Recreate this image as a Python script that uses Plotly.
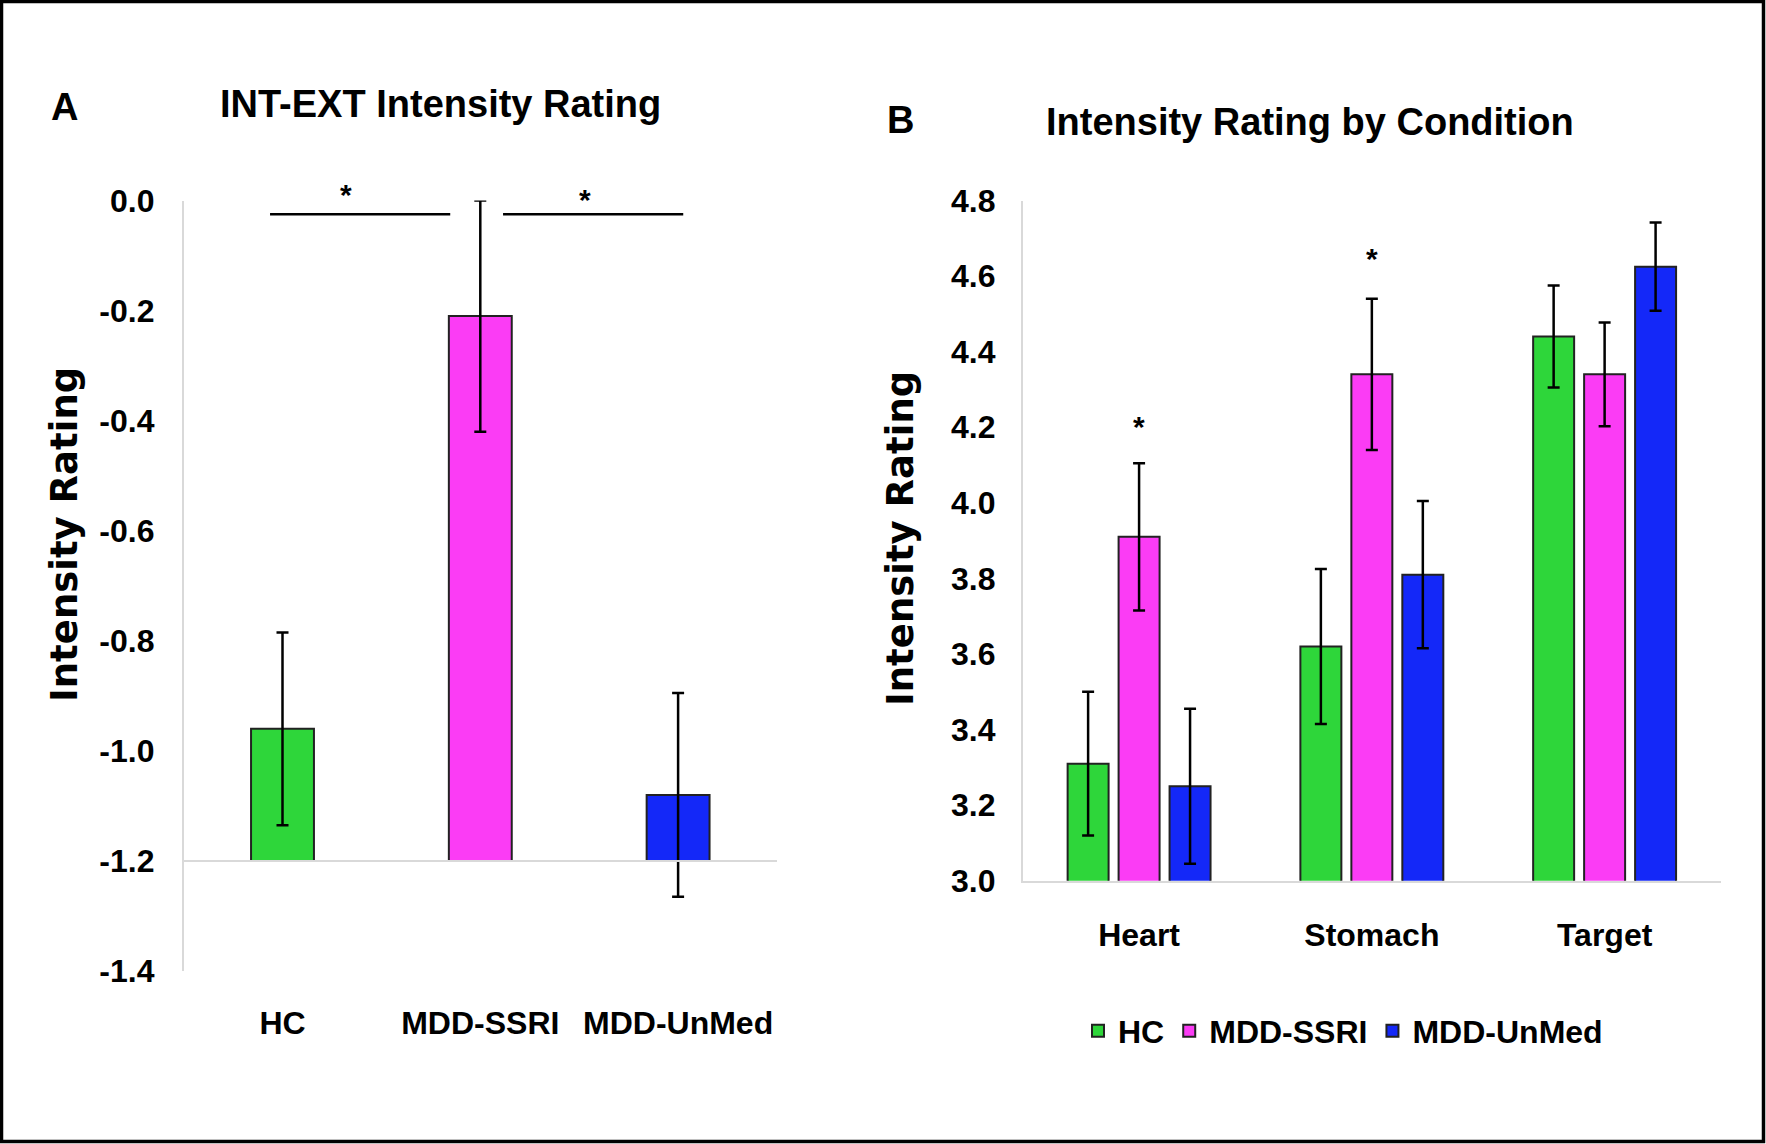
import plotly.graph_objects as go

# ---------------- data ----------------
groups_a = ["HC", "MDD-SSRI", "MDD-UnMed"]
means_a = [-0.96, -0.21, -1.08]
err_a = [0.175, 0.21, 0.185]
base_a = -1.2

conditions = ["Heart", "Stomach", "Target"]
series_names = ["HC", "MDD-SSRI", "MDD-UnMed"]
hc_b = [3.31, 3.62, 4.44]
hc_err = [0.19, 0.205, 0.135]
ssri_b = [3.91, 4.34, 4.34]
ssri_err = [0.195, 0.20, 0.137]
unmed_b = [3.25, 3.81, 4.625]
unmed_err = [0.205, 0.195, 0.117]

colors = ["#2ED63A", "#FB3CF5", "#1428F8"]
W, H = 1766, 1144

ARIAL = "Liberation Sans, Arial, sans-serif"
WIDE = "DejaVu Sans, Verdana, sans-serif"
TICK = 32
TITLE = 38

fig = go.Figure()

# Panel A
fig.add_trace(go.Bar(
    x=groups_a, y=[m - base_a for m in means_a], base=base_a,
    width=0.318,
    marker=dict(color=colors, line=dict(color="#222222", width=2)),
    error_y=dict(type="data", array=err_a, color="black", thickness=2.5, width=6),
    xaxis="x", yaxis="y", showlegend=False, hoverinfo="skip",
))

# Panel B
for name, vals, errs, c in zip(series_names, [hc_b, ssri_b, unmed_b],
                                [hc_err, ssri_err, unmed_err], colors):
    fig.add_trace(go.Bar(
        x=conditions, y=vals, name=name,
        marker=dict(color=c, line=dict(color="#222222", width=2)),
        error_y=dict(type="data", array=errs, color="black", thickness=2.5, width=6),
        xaxis="x2", yaxis="y2",
    ))

def px_x(p):
    return p / W

def px_y(p):
    return 1 - p / H

axis_font = dict(family=ARIAL, size=TICK, color="black", weight="bold")

fig.update_layout(
    template="none",
    width=W, height=H,
    margin=dict(l=0, r=0, t=0, b=0, pad=0, autoexpand=False),
    paper_bgcolor="white", plot_bgcolor="white",
    barmode="group", bargap=0.343, bargroupgap=0.196,
    font=dict(family=ARIAL, color="black"),
    xaxis=dict(domain=[px_x(183.6), px_x(777)], anchor="y", automargin=False,
               showline=False, showgrid=False, zeroline=False, tickfont=axis_font,
               ticks="", tickangle=0, ticklabelstandoff=30),
    yaxis=dict(domain=[px_y(971), px_y(200.5)], anchor="x", automargin=False,
               range=[-1.4, 0.0], tickvals=[0, -0.2, -0.4, -0.6, -0.8, -1.0, -1.2, -1.4],
               ticktext=["0.0", "-0.2", "-0.4", "-0.6", "-0.8", "-1.0", "-1.2", "-1.4"],
               showgrid=False, zeroline=False, showline=True, linecolor="#D9D9D9",
               linewidth=1.5, tickfont=axis_font, ticks="", ticklabelstandoff=21),
    xaxis2=dict(domain=[px_x(1022.7), px_x(1721)], anchor="y2", automargin=False,
                showline=True, linecolor="#D9D9D9", linewidth=2, showgrid=False,
                zeroline=False, tickfont=axis_font, ticks="", tickangle=0,
                ticklabelstandoff=25),
    yaxis2=dict(domain=[px_y(880.8), px_y(200.5)], anchor="x2", automargin=False,
                range=[3.0, 4.8], dtick=0.2, tickformat=".1f",
                showgrid=False, zeroline=False, showline=True, linecolor="#D9D9D9",
                linewidth=1.5, tickfont=axis_font, ticks="", ticklabelstandoff=19),
    legend=dict(orientation="h", x=px_x(1343), xanchor="center",
                y=px_y(1031), yanchor="middle",
                font=dict(family=ARIAL, size=TICK, color="black", weight="bold"),
                itemwidth=30, tracegroupgap=0, bgcolor="rgba(0,0,0,0)"),
)

shapes = [
    # baseline at -1.2 in panel A
    dict(type="line", xref="x domain", yref="y", x0=0, x1=1, y0=base_a, y1=base_a,
         line=dict(color="#D9D9D9", width=2)),
    # significance bars
    dict(type="line", xref="x", yref="y", x0=-0.063, x1=0.848, y0=-0.025, y1=-0.025,
         line=dict(color="black", width=2.5)),
    dict(type="line", xref="x", yref="y", x0=1.115, x1=2.026, y0=-0.025, y1=-0.025,
         line=dict(color="black", width=2.5)),
    # outer frame
    dict(type="rect", xref="paper", yref="paper", x0=1.5 / W, x1=1 - 2.5 / W,
         y0=2.5 / H, y1=1 - 1.5 / H, line=dict(color="black", width=3.5)),
]
fig.update_layout(shapes=shapes)

ann = []
def label(text, x, y, size, family=ARIAL, angle=0):
    ann.append(dict(text=f"<b>{text}</b>", x=px_x(x), y=px_y(y), xref="paper", yref="paper",
                    showarrow=False, xanchor="center", yanchor="middle", textangle=angle,
                    font=dict(family=family, size=size, color="black")))

label("A", 64, 107, TITLE)
label("INT-EXT Intensity Rating", 440, 104, TITLE)
label("B", 901, 120, TITLE)
label("Intensity Rating by Condition", 1310, 122, TITLE)
label("Intensity Rating", 64, 535, 37, family=WIDE, angle=-90)
label("Intensity Rating", 901, 538, 37, family=WIDE, angle=-90)

# asterisks (y given in paper pixels since they sit above the axis range in panel A)
for x, ypx, xr in [(0.32, 195, "x"), (1.53, 199, "x"),
                   ("Heart", 426, "x2"), ("Stomach", 258, "x2")]:
    ann.append(dict(text="<b>*</b>", x=x, y=px_y(ypx), xref=xr, yref="paper", showarrow=False,
                    xanchor="center", yanchor="middle",
                    font=dict(family=ARIAL, size=30, color="black")))

fig.update_layout(annotations=ann)

fig.write_html(
    "out.html",
    config={"displayModeBar": False},
    post_script="document.body.style.margin='0px';document.body.style.overflow='hidden';",
)
